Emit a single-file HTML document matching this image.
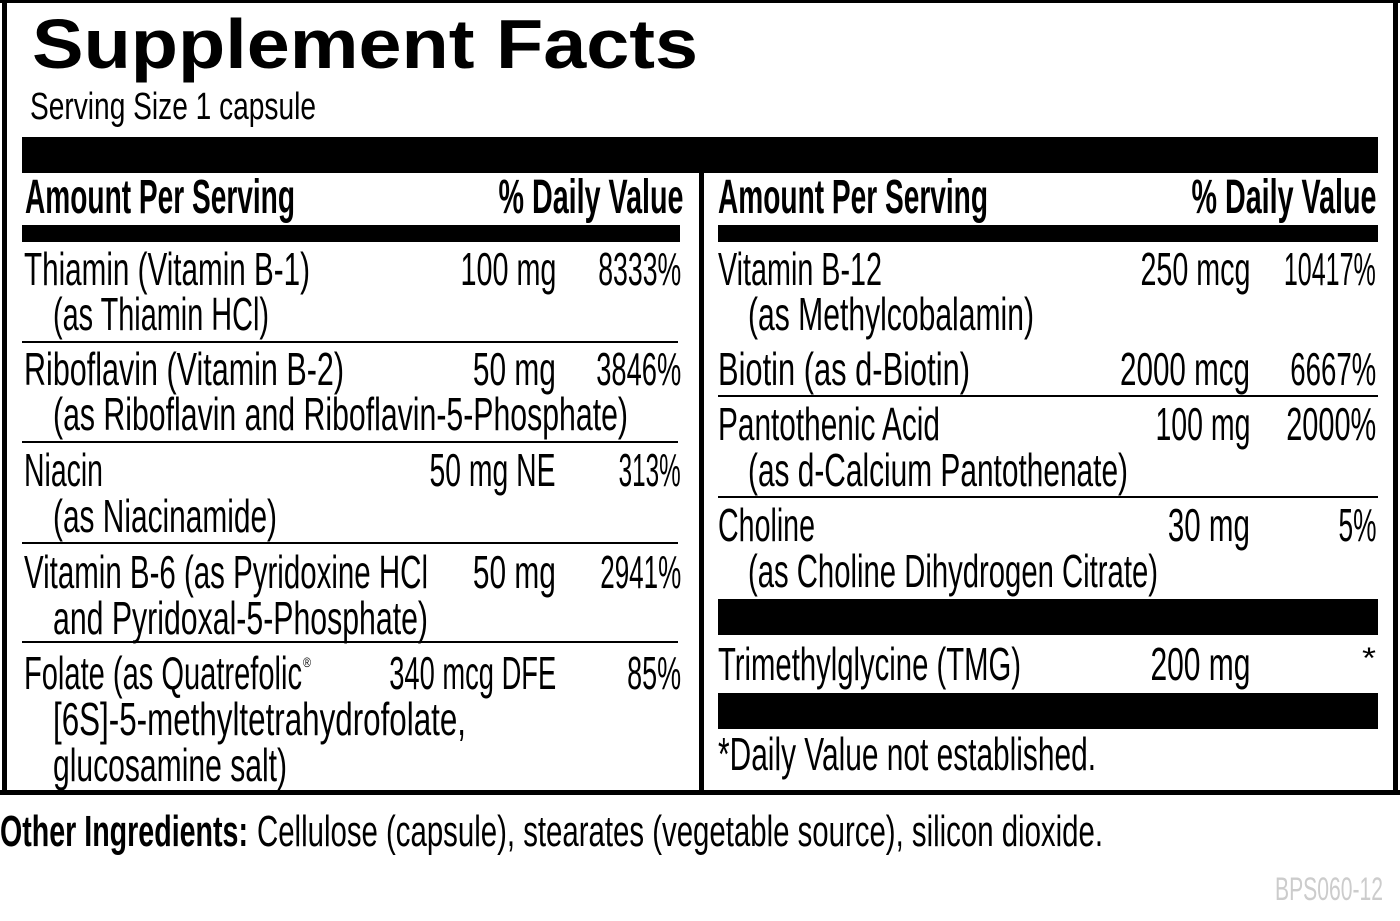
<!DOCTYPE html>
<html><head><meta charset="utf-8">
<style>
html,body{margin:0;padding:0;background:#fff;}
body{width:1400px;height:921px;position:relative;overflow:hidden;font-family:"Liberation Sans",sans-serif;color:#000;}
.b{position:absolute;background:#000;}
.t{position:absolute;white-space:nowrap;line-height:1;font-size:46px;transform-origin:left center;}
.r{transform-origin:right center;}
.h{font-weight:bold;font-size:48px;}
</style></head><body>
<!-- frame -->
<div class="b" style="left:0;top:0;width:1400px;height:3px"></div>
<div class="b" style="left:2px;top:0;width:5px;height:795px"></div>
<div class="b" style="left:1393px;top:0;width:5px;height:795px"></div>
<div class="b" style="left:0;top:790px;width:1400px;height:5px"></div>
<div class="b" style="left:699px;top:172px;width:5px;height:620px"></div>
<div class="b" style="left:22px;top:137px;width:1356px;height:36px"></div>
<div class="b" style="left:22px;top:225px;width:658px;height:17px"></div>
<div class="b" style="left:718px;top:225px;width:660px;height:17px"></div>
<div class="b" style="left:22px;top:341px;width:656px;height:2px"></div>
<div class="b" style="left:22px;top:441px;width:656px;height:2px"></div>
<div class="b" style="left:22px;top:542px;width:656px;height:2px"></div>
<div class="b" style="left:22px;top:641px;width:656px;height:2px"></div>
<div class="b" style="left:718px;top:395px;width:660px;height:2px"></div>
<div class="b" style="left:718px;top:496px;width:660px;height:2px"></div>
<div class="b" style="left:718px;top:599px;width:660px;height:36px"></div>
<div class="b" style="left:718px;top:693px;width:660px;height:36px"></div>

<div class="t" style="left:32px;top:9px;font-size:70px;font-weight:bold;--w:666" >Supplement Facts</div>
<div class="t" style="left:30px;top:88px;font-size:38px;--w:286">Serving Size 1 capsule</div>

<div class="t h" style="left:25px;top:174px;--w:270">Amount Per Serving</div>
<div class="t h r" style="right:717px;top:174px;--w:185">% Daily Value</div>
<div class="t h" style="left:718px;top:174px;--w:270">Amount Per Serving</div>
<div class="t h r" style="right:24px;top:174px;--w:185">% Daily Value</div>

<div class="t" style="left:24px;top:246px;--w:286">Thiamin (Vitamin B-1)</div>
<div class="t r" style="right:844px;top:246px;--w:96">100 mg</div>
<div class="t r" style="right:719px;top:246px;--w:83">8333%</div>
<div class="t" style="left:53px;top:291px;--w:216">(as Thiamin HCl)</div>

<div class="t" style="left:24px;top:346px;--w:320">Riboflavin (Vitamin B-2)</div>
<div class="t r" style="right:844px;top:346px;--w:83">50 mg</div>
<div class="t r" style="right:719px;top:346px;--w:85">3846%</div>
<div class="t" style="left:53px;top:391px;--w:575">(as Riboflavin and Riboflavin-5-Phosphate)</div>

<div class="t" style="left:24px;top:447px;--w:79">Niacin</div>
<div class="t r" style="right:844px;top:447px;--w:126">50 mg NE</div>
<div class="t r" style="right:719px;top:447px;--w:62">313%</div>
<div class="t" style="left:53px;top:493px;--w:224">(as Niacinamide)</div>

<div class="t" style="left:24px;top:549px;--w:404">Vitamin B-6 (as Pyridoxine HCl</div>
<div class="t r" style="right:844px;top:549px;--w:83">50 mg</div>
<div class="t r" style="right:719px;top:549px;--w:81">2941%</div>
<div class="t" style="left:53px;top:595px;--w:375">and Pyridoxal-5-Phosphate)</div>

<div class="t" style="left:24px;top:650px;--w:278">Folate (as Quatrefolic</div>
<div class="t" style="left:303px;top:655px;font-size:14px;--w:8">®</div>
<div class="t r" style="right:844px;top:650px;--w:167">340 mcg DFE</div>
<div class="t r" style="right:719px;top:650px;--w:54">85%</div>
<div class="t" style="left:53px;top:696px;--w:413">[6S]-5-methyltetrahydrofolate,</div>
<div class="t" style="left:53px;top:742px;--w:234">glucosamine salt)</div>

<div class="t" style="left:718px;top:246px;--w:164">Vitamin B-12</div>
<div class="t r" style="right:150px;top:246px;--w:110">250 mcg</div>
<div class="t r" style="right:24px;top:246px;--w:92">10417%</div>
<div class="t" style="left:748px;top:291px;--w:286">(as Methylcobalamin)</div>

<div class="t" style="left:718px;top:346px;--w:252">Biotin (as d-Biotin)</div>
<div class="t r" style="right:150px;top:346px;--w:130">2000 mcg</div>
<div class="t r" style="right:24px;top:346px;--w:86">6667%</div>

<div class="t" style="left:718px;top:401px;--w:222">Pantothenic Acid</div>
<div class="t r" style="right:150px;top:401px;--w:95">100 mg</div>
<div class="t r" style="right:24px;top:401px;--w:90">2000%</div>
<div class="t" style="left:748px;top:447px;--w:380">(as d-Calcium Pantothenate)</div>

<div class="t" style="left:718px;top:502px;--w:97">Choline</div>
<div class="t r" style="right:150px;top:502px;--w:82">30 mg</div>
<div class="t r" style="right:24px;top:502px;--w:38">5%</div>
<div class="t" style="left:748px;top:548px;--w:410">(as Choline Dihydrogen Citrate)</div>

<div class="t" style="left:718px;top:641px;--w:303">Trimethylglycine (TMG)</div>
<div class="t r" style="right:150px;top:641px;--w:100">200 mg</div>
<div class="t" style="left:1362px;top:644px;font-size:30px;--w:14">*</div>

<div class="t" style="left:718px;top:731px;--w:378">*Daily Value not established.</div>

<div class="t" style="left:0px;top:810px;font-size:44px;font-weight:bold;--w:248">Other Ingredients:</div>
<div class="t" style="left:257px;top:810px;font-size:44px;--w:846">Cellulose (capsule), stearates (vegetable source), silicon dioxide.</div>
<div class="t" style="left:1275px;top:873px;font-size:32px;color:#ccc;--w:108">BPS060-12</div>

<script>
document.querySelectorAll('.t').forEach(function(e){
  var w=parseFloat(getComputedStyle(e).getPropertyValue('--w'));
  var n=e.getBoundingClientRect().width;
  if(w&&n){e.style.transform='scaleX('+(w/n)+')';}
});
</script>
</body></html>
